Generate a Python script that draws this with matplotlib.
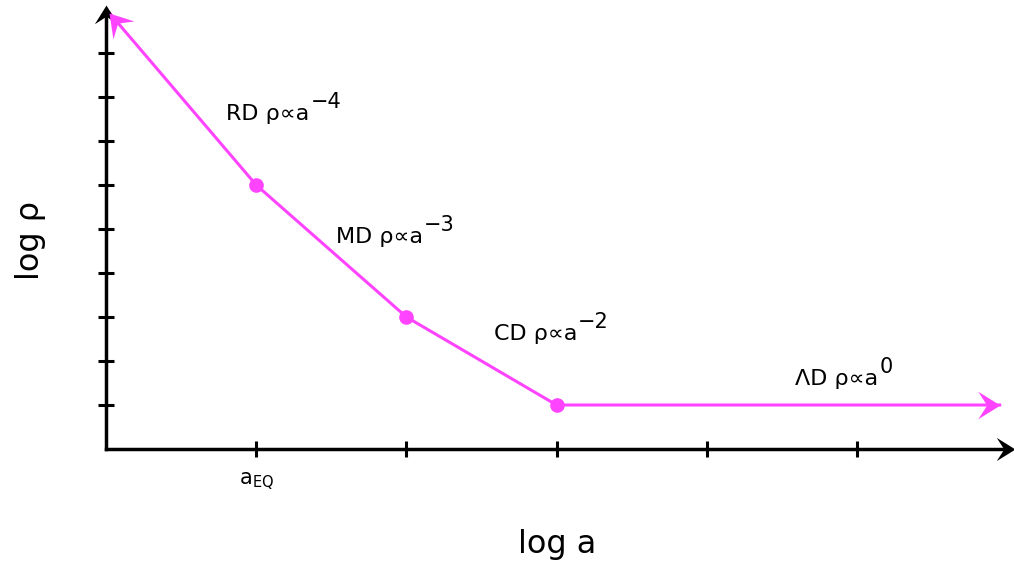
import numpy as np
import matplotlib
matplotlib.use("Agg")
import matplotlib.pyplot as plt
from matplotlib.path import Path
from matplotlib.markers import MarkerStyle
from matplotlib.transforms import Affine2D

# --- data (log a, log rho) ---
log_a = [0.02, 1, 2, 3, 5.95]
log_rho = [9.92, 6, 3, 1, 1]
knot_a = [1, 2, 3]
knot_rho = [6, 3, 1]

era_labels = ["RD", "MD", "CD", "ΛD"]
era_powers = ["−4", "−3", "−2", "0"]
label_x = [0.80, 1.53, 2.58, 4.59]
label_y = [7.48, 4.68, 2.48, 1.45]

x_ticks = [1, 2, 3, 4, 5]
x_ticklabels = [r"a$_{\mathregular{EQ}}$", "", "", "", ""]
y_ticks = [1, 2, 3, 4, 5, 6, 7, 8, 9]

plt.rcParams['font.family'] = ['DejaVu Sans']
plt.rcParams['mathtext.fontset'] = 'dejavusans'

magenta = '#ff44ff'

fig = plt.figure(figsize=(10.14, 5.67), dpi=100)
W, H = 1014, 567
x0, y0 = 106, 449
sx, sy = 150.2, 44.0
xmax, ymax = 6.05, 10.1
ax = fig.add_axes([x0 / W, (H - y0) / H, xmax * sx / W, ymax * sy / H])
ax.set_xlim(0, xmax)
ax.set_ylim(0, ymax)

for s in ax.spines.values():
    s.set_visible(False)

ax.set_xticks(x_ticks)
ax.set_xticklabels(x_ticklabels, fontsize=15)
ax.set_yticks(y_ticks)
ax.set_yticklabels([])
ax.tick_params(direction='inout', length=11, width=2.2, pad=10)

# stealth arrow head, tip at origin pointing along +x
stealth = Path([(0, 0), (-1, 0.62), (-0.6, 0), (-1, -0.62), (0, 0)],
               [Path.MOVETO, Path.LINETO, Path.LINETO, Path.LINETO, Path.CLOSEPOLY])


def head(x_tip, y_tip, x_from, y_from, color, size):
    p1 = ax.transData.transform((x_from, y_from))
    p2 = ax.transData.transform((x_tip, y_tip))
    ang = np.degrees(np.arctan2(p2[1] - p1[1], p2[0] - p1[0]))
    m = MarkerStyle(stealth, transform=Affine2D().rotate_deg(ang))
    ax.plot([x_tip], [y_tip], marker=m, color=color, markersize=size,
            markeredgewidth=0, linestyle='none', clip_on=False, zorder=5)


# axes with arrow heads
ax.plot([0, xmax - 0.05], [0, 0], color='black', lw=2.5, clip_on=False)
ax.plot([0, 0], [0, ymax - 0.2], color='black', lw=2.5, clip_on=False)
head(xmax, 0, 0, 0, 'black', 27)
head(0, ymax, 0, 0, 'black', 27)

# density curve
ax.plot(log_a, log_rho, color=magenta, lw=2.2, clip_on=False, zorder=3)
head(log_a[0], log_rho[0], log_a[1], log_rho[1], magenta, 32)
head(log_a[-1], log_rho[-1], log_a[-2], log_rho[-2], magenta, 32)
ax.plot(knot_a, knot_rho, 'o', color=magenta, markersize=9.5, clip_on=False, zorder=4)

for lab, p, x, y in zip(era_labels, era_powers, label_x, label_y):
    t = ax.text(x, y, lab + " ρ∝a", fontsize=16, ha='left', va='baseline')
    ax.annotate(p, xy=(1.0, 0.6), xycoords=t, xytext=(1, 0),
                textcoords='offset points', fontsize=15, ha='left', va='bottom')

fig.text(557 / W, 1 - 545 / H, "log a", fontsize=23, ha='center', va='center')
fig.text(30 / W, 1 - 240 / H, "log ρ", fontsize=23, ha='center', va='center',
         rotation=90)

fig.savefig('out.png', dpi=100)
